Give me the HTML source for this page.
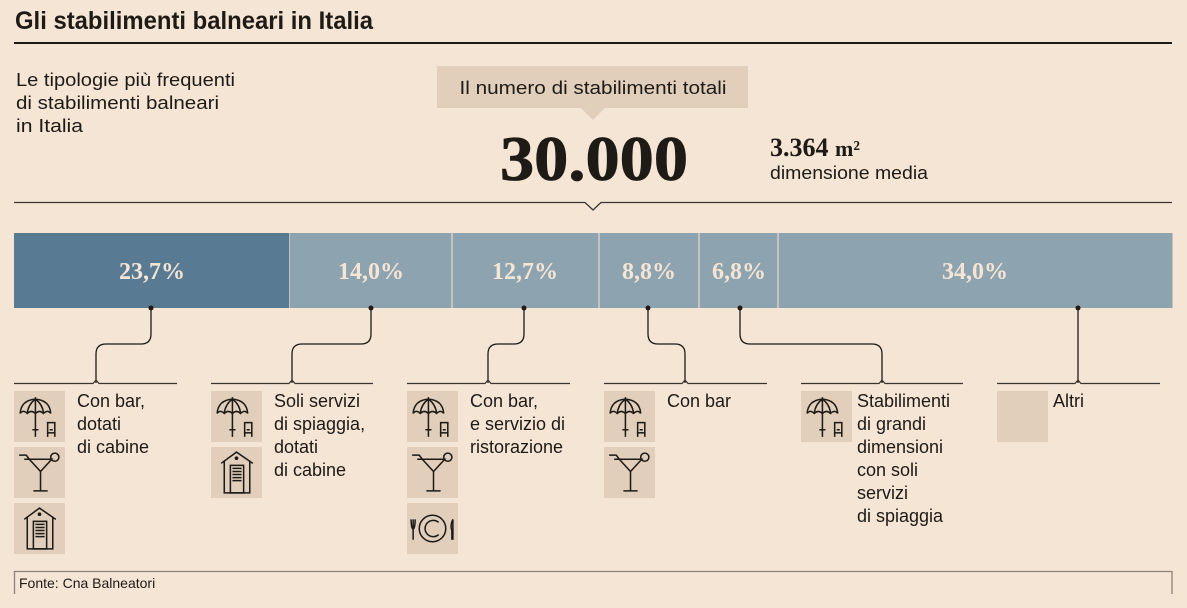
<!DOCTYPE html>
<html><head><meta charset="utf-8"><style>
html,body{margin:0;padding:0;background:#f5e5d5;}
svg{display:block}
.s{font-family:"Liberation Sans Narrow","Liberation Sans",sans-serif;fill:#1e1a16}
.r{font-family:"Liberation Serif",serif;font-weight:bold}
</style></head><body>
<svg width="1187" height="608" viewBox="0 0 1187 608" xmlns="http://www.w3.org/2000/svg">
<defs>
<symbol id="umb" viewBox="0 0 50 50">
<rect width="50" height="50" fill="#e1cfbc"/>
<g fill="none" stroke="#1e1a16" stroke-width="1.5">
<path d="M6 22 Q7 9 21 8 Q35 9 36 22"/>
<path d="M6 22 Q9 18 13 22 Q17 18 21 22 Q25 18 29 22 Q33 18 36 22"/>
<path d="M21 8 Q14 13 13 22 M21 8 Q28 13 29 22"/>
<path d="M21 6 V45 M18 38 H24"/>
<rect x="33" y="31" width="7" height="10"/><path d="M33 41 V45 M40 41 V45 M35 38 H38"/>
</g></symbol>
<symbol id="cock" viewBox="0 0 50 50">
<rect width="50" height="50" fill="#e1cfbc"/>
<g fill="none" stroke="#1e1a16" stroke-width="1.5">
<path d="M5 8 H12 L15 12 M10 12 H37 L26 24 L15 12 M26 24 V43 M19 43 H33"/>
<circle cx="40" cy="10" r="4"/>
</g></symbol>
<symbol id="cab" viewBox="0 0 50 50">
<rect width="50" height="50" fill="#e1cfbc"/>
<g fill="none" stroke="#1e1a16" stroke-width="1.5">
<path d="M10 16 L25 5 L41 16 M13 14 V45 H38 V14"/>
<rect x="19" y="18" width="13" height="27"/>
<path d="M21 21 H30 M21 24 H30 M21 27 H30 M21 30 H30 M21 33 H30"/>
</g><circle cx="25" cy="11" r="1.8" fill="#1e1a16"/></symbol>
<symbol id="plate" viewBox="0 0 50 50">
<rect width="50" height="50" fill="#e1cfbc"/>
<g fill="none" stroke="#1e1a16" stroke-width="1.5">
<circle cx="25" cy="25" r="13"/><path d="M31 19 A8 8 0 1 0 31 31"/>
<path d="M6 16 V36 M4 16 Q4 24 6 26 Q8 24 8 16 M45 16 Q42 22 44 27 V36 M45 16 V36"/>
</g></symbol>
</defs>

<text x="15" y="29" class="s" font-weight="bold" font-size="25" textLength="358" lengthAdjust="spacingAndGlyphs">Gli stabilimenti balneari in Italia</text>
<rect x="14" y="42" width="1158" height="2" fill="#1e1a16"/>

<g class="s" font-size="18">
<text x="16" y="86" textLength="219" lengthAdjust="spacingAndGlyphs">Le tipologie più frequenti</text>
<text x="16" y="109" textLength="203" lengthAdjust="spacingAndGlyphs">di stabilimenti balneari</text>
<text x="16" y="132" textLength="67" lengthAdjust="spacingAndGlyphs">in Italia</text>
</g>

<rect x="437" y="66" width="311" height="42" fill="#e1cfbc"/>
<path d="M581 108 L593 120 L605 108 Z" fill="#e1cfbc"/>
<text x="593" y="94" class="s" font-size="18" text-anchor="middle" textLength="267" lengthAdjust="spacingAndGlyphs">Il numero di stabilimenti totali</text>

<text x="594" y="180" class="r" font-size="64" text-anchor="middle" fill="#1e1a16" textLength="188" lengthAdjust="spacingAndGlyphs" stroke="#1e1a16" stroke-width="0.8">30.000</text>
<text x="770" y="156" class="r" font-size="26" fill="#1e1a16">3.364 <tspan font-size="22">m²</tspan></text>
<text x="770" y="179" class="s" font-size="18" textLength="158" lengthAdjust="spacingAndGlyphs">dimensione media</text>

<path d="M14 202.5 H585 L593 210 L601 202.5 H1172" fill="none" stroke="#3a342e" stroke-width="1.3"/>

<rect x="14" y="233" width="275" height="75" fill="#587a93"/>
<rect x="289.5" y="233" width="162" height="75" fill="#8ea3b0"/>
<rect x="452.5" y="233" width="146" height="75" fill="#8ea3b0"/>
<rect x="599.5" y="233" width="99" height="75" fill="#8ea3b0"/>
<rect x="699.5" y="233" width="78" height="75" fill="#8ea3b0"/>
<rect x="778.5" y="233" width="394" height="75" fill="#8ea3b0"/>
<g class="r" font-size="24" fill="#f5e5d5" text-anchor="middle">
<text x="152" y="279">23,7%</text>
<text x="371" y="279">14,0%</text>
<text x="525" y="279">12,7%</text>
<text x="649" y="279">8,8%</text>
<text x="739" y="279">6,8%</text>
<text x="975" y="279">34,0%</text>
</g>

<g fill="none" stroke="#1e1a16" stroke-width="1.3">
<path d="M151 308 V334 Q151 344 141 344 H106 Q96 344 96 354 V383"/>
<path d="M371 308 V334 Q371 344 361 344 H302 Q292 344 292 354 V383"/>
<path d="M524 308 V334 Q524 344 514 344 H498 Q488 344 488 354 V383"/>
<path d="M648 308 V334 Q648 344 658 344 H675 Q685 344 685 354 V383"/>
<path d="M740 308 V334 Q740 344 750 344 H872 Q882 344 882 354 V383"/>
<path d="M1078 308 V383"/>
</g>
<g fill="#1e1a16">
<circle cx="151" cy="308" r="2.5"/><circle cx="371" cy="308" r="2.5"/><circle cx="524" cy="308" r="2.5"/>
<circle cx="648" cy="308" r="2.5"/><circle cx="740" cy="308" r="2.5"/><circle cx="1078" cy="308" r="2.5"/>
</g>
<g fill="none" stroke="#3a342e" stroke-width="1.2">
<path d="M14 383.5 H93 L96 380 L99 383.5 H177"/>
<path d="M211 383.5 H289 L292 380 L295 383.5 H373"/>
<path d="M407 383.5 H485 L488 380 L491 383.5 H570"/>
<path d="M604 383.5 H682 L685 380 L688 383.5 H767"/>
<path d="M801 383.5 H879 L882 380 L885 383.5 H963"/>
<path d="M997 383.5 H1075 L1078 380 L1081 383.5 H1160"/>
</g>

<use href="#umb" x="14" y="391" width="51" height="51"/>
<use href="#cock" x="14" y="447" width="51" height="51"/>
<use href="#cab" x="14" y="503" width="51" height="51"/>
<use href="#umb" x="211" y="391" width="51" height="51"/>
<use href="#cab" x="211" y="447" width="51" height="51"/>
<use href="#umb" x="407" y="391" width="51" height="51"/>
<use href="#cock" x="407" y="447" width="51" height="51"/>
<use href="#plate" x="407" y="503" width="51" height="51"/>
<use href="#umb" x="604" y="391" width="51" height="51"/>
<use href="#cock" x="604" y="447" width="51" height="51"/>
<use href="#umb" x="801" y="391" width="51" height="51"/>
<rect x="997" y="391" width="51" height="51" fill="#e1cfbc"/>

<g class="s" font-size="18">
<text x="77" y="407">Con bar,</text><text x="77" y="430">dotati</text><text x="77" y="453">di cabine</text>
<text x="274" y="407">Soli servizi</text><text x="274" y="430">di spiaggia,</text><text x="274" y="453">dotati</text><text x="274" y="476">di cabine</text>
<text x="470" y="407">Con bar,</text><text x="470" y="430">e servizio di</text><text x="470" y="453">ristorazione</text>
<text x="667" y="407">Con bar</text>
<text x="857" y="407">Stabilimenti</text><text x="857" y="430">di grandi</text><text x="857" y="453">dimensioni</text><text x="857" y="476">con soli</text><text x="857" y="499">servizi</text><text x="857" y="522">di spiaggia</text>
<text x="1053" y="407">Altri</text>
</g>

<path d="M14.5 594 V571.5 H1172 V594" fill="none" stroke="#8a8279" stroke-width="1.3"/>
<text x="19" y="588" class="s" font-size="14">Fonte: Cna Balneatori</text>
</svg>
</body></html>
